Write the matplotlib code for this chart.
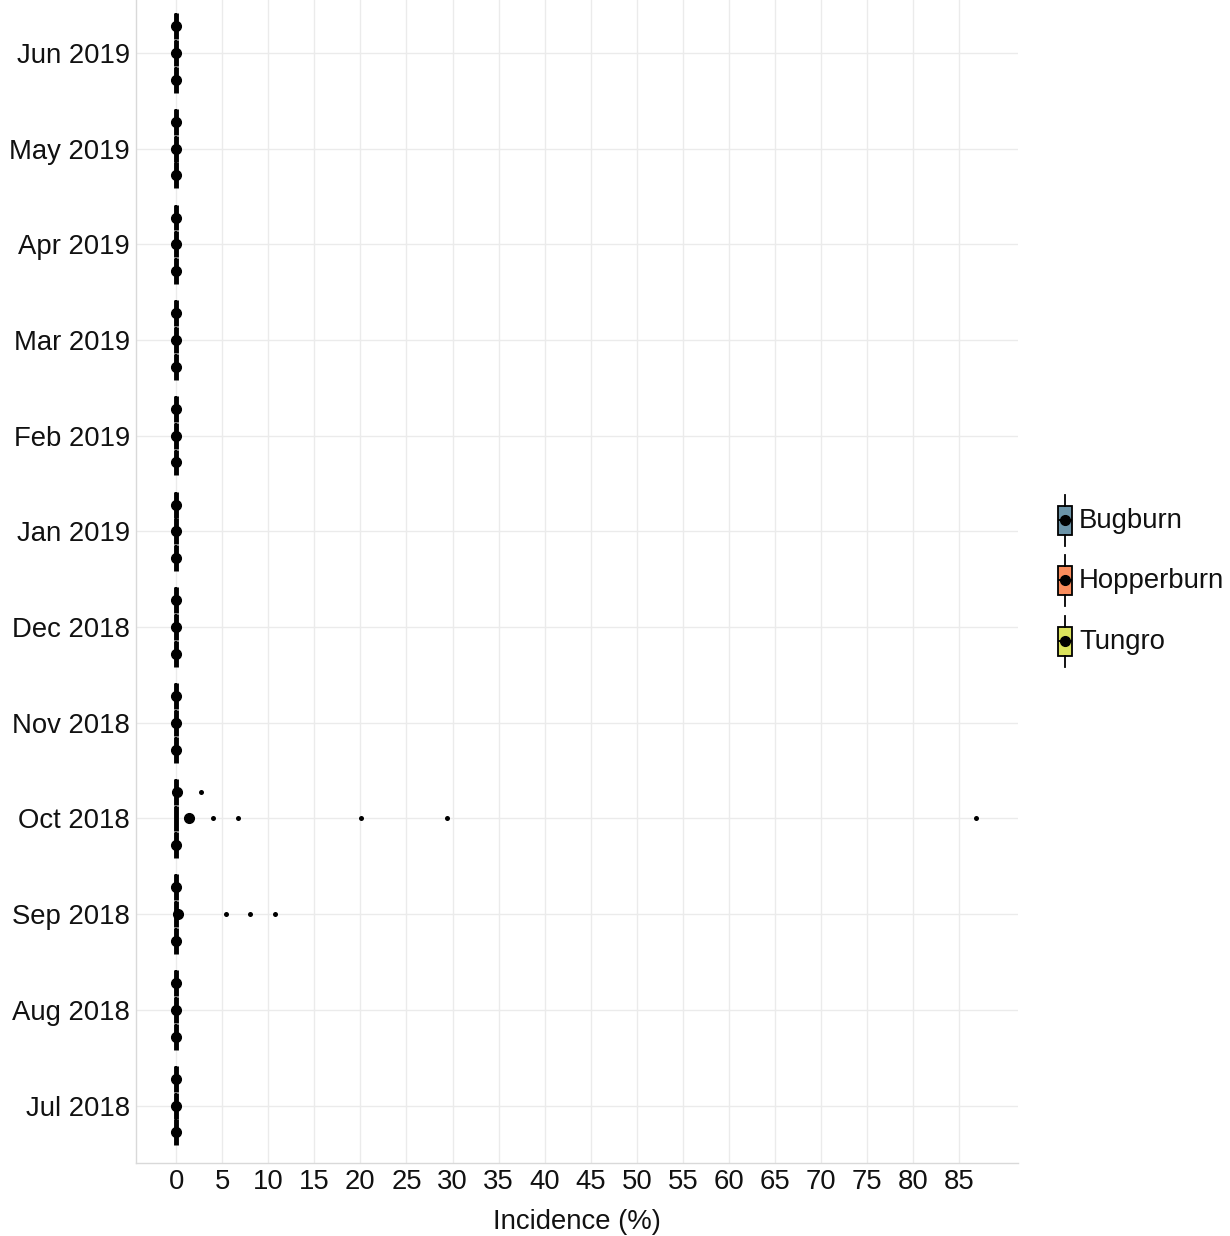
import matplotlib.pyplot as plt
import numpy as np

plt.rcParams['font.family'] = ['Liberation Sans', 'DejaVu Sans']

# months from bottom to top
months = ['Jul 2018', 'Aug 2018', 'Sep 2018', 'Oct 2018', 'Nov 2018', 'Dec 2018',
          'Jan 2019', 'Feb 2019', 'Mar 2019', 'Apr 2019', 'May 2019', 'Jun 2019']
diseases = ['Bugburn', 'Hopperburn', 'Tungro']
colors = ['#6b93a7', '#f98c5c', '#dbe35c']

# box statistics per disease (all boxes collapse at 0)
q1 = {
    'Bugburn':    [0, 0, 0, 0, 0, 0, 0, 0, 0, 0, 0, 0],
    'Hopperburn': [0, 0, 0, 0, 0, 0, 0, 0, 0, 0, 0, 0],
    'Tungro':     [0, 0, 0, 0, 0, 0, 0, 0, 0, 0, 0, 0],
}
med = {
    'Bugburn':    [0, 0, 0, 0, 0, 0, 0, 0, 0, 0, 0, 0],
    'Hopperburn': [0, 0, 0, 0, 0, 0, 0, 0, 0, 0, 0, 0],
    'Tungro':     [0, 0, 0, 0, 0, 0, 0, 0, 0, 0, 0, 0],
}
q3 = {
    'Bugburn':    [0, 0, 0, 0, 0, 0, 0, 0, 0, 0, 0, 0],
    'Hopperburn': [0, 0, 0, 0, 0, 0, 0, 0, 0, 0, 0, 0],
    'Tungro':     [0, 0, 0, 0, 0, 0, 0, 0, 0, 0, 0, 0],
}
means = {
    'Bugburn':    [0, 0, 0, 0, 0, 0, 0, 0, 0, 0, 0, 0],
    'Hopperburn': [0, 0, 0.2, 1.4, 0, 0, 0, 0, 0, 0, 0, 0],
    'Tungro':     [0, 0, 0, 0.05, 0, 0, 0, 0, 0, 0, 0, 0],
}
outliers = {
    'Bugburn':    [[], [], [], [], [], [], [], [], [], [], [], []],
    'Hopperburn': [[], [], [5.4, 8.0, 10.7], [4.0, 6.7, 20.1, 29.4, 86.8],
                   [], [], [], [], [], [], [], []],
    'Tungro':     [[], [], [], [2.7], [], [], [], [], [], [], [], []],
}

x_ticks = list(range(0, 90, 5))

W, H = 1230, 1236
fig = plt.figure(figsize=(W / 100, H / 100), dpi=100)
ax = fig.add_axes([136 / W, 1 - 1163 / H, (1018 - 136) / W, 1167.5 / H])

pos = np.arange(1, len(months) + 1)
offsets = [-0.28, 0.0, 0.28]
for k, d in enumerate(diseases):
    stats = []
    for i in range(len(months)):
        stats.append(dict(med=med[d][i], q1=q1[d][i], q3=q3[d][i],
                          whislo=q1[d][i], whishi=q3[d][i],
                          mean=means[d][i], fliers=outliers[d][i]))
    ax.bxp(stats, positions=pos + offsets[k], widths=0.27,
           orientation='horizontal', patch_artist=True, showmeans=True,
           showcaps=False,
           boxprops=dict(facecolor=colors[k], edgecolor='black', linewidth=1.6),
           medianprops=dict(color='black', linewidth=3.5),
           whiskerprops=dict(color='black', linewidth=1.6),
           meanprops=dict(marker='o', markerfacecolor='black',
                          markeredgecolor='black', markersize=7),
           flierprops=dict(marker='o', markerfacecolor='black',
                           markeredgecolor='none', markersize=3.6))

ax.set_xlim(-4.35, 91.35)
ax.set_ylim(0.4, 12.6)
ax.set_xticks(x_ticks)
ax.set_xticklabels([str(t) for t in x_ticks])
ax.set_yticks(pos)
ax.set_yticklabels(months)
ax.tick_params(length=0, labelsize=19.8, labelcolor='#111111', pad=4.5)
ax.grid(True, color='#ebebeb', linewidth=1.0)
ax.set_axisbelow(True)
for s in ['top', 'right']:
    ax.spines[s].set_visible(False)
for s in ['left', 'bottom']:
    ax.spines[s].set_color('#d9d9d9')
    ax.spines[s].set_linewidth(1.0)
ax.set_xlabel('Incidence (%)', fontsize=19.8, color='#111111', labelpad=10)

# legend drawn as small boxplot keys
lax = fig.add_axes([1045 / W, 1 - 675 / H, 40 / W, 190 / H])
lax.set_xlim(-1, 1)
lax.set_ylim(675, 485)
lax.axis('off')
key_y = [520, 580, 641]
for k, d in enumerate(diseases):
    c = key_y[k]
    lax.bxp([dict(med=c, q1=c - 14.5, q3=c + 14.5, whislo=c - 25.5,
                  whishi=c + 25.5, mean=c, fliers=[])],
            positions=[0], widths=0.7, patch_artist=True, showmeans=True,
            showcaps=False,
            boxprops=dict(facecolor=colors[k], edgecolor='black', linewidth=1.3),
            medianprops=dict(color='black', linewidth=1.3),
            whiskerprops=dict(color='black', linewidth=1.3),
            meanprops=dict(marker='o', markerfacecolor='black',
                           markeredgecolor='black', markersize=7))
    fig.text(1079 / W, 1 - (c + 1) / H, d, fontsize=19.8, color='#111111',
             va='center', ha='left')

fig.savefig('out.png', dpi=100)
